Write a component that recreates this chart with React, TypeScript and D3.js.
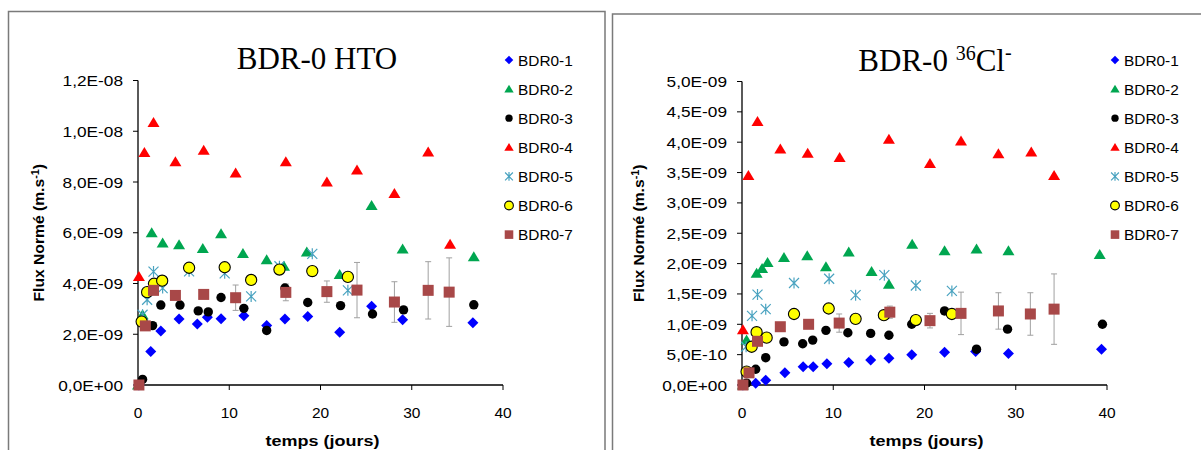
import React from 'react';
import * as d3 from 'd3';

// ---------- DATA (values in units of 1e-9 m/s) ----------
const seriesNames = ['BDR0-1', 'BDR0-2', 'BDR0-3', 'BDR0-4', 'BDR0-5', 'BDR0-6', 'BDR0-7'];
const xTicks = [0, 10, 20, 30, 40];
const htoYTicks = [0, 2, 4, 6, 8, 10, 12];
const clYTicks = [0, 0.5, 1, 1.5, 2, 2.5, 3, 3.5, 4, 4.5, 5];

// HTO chart
const hto1 = [[0.1, 0], [1.4, 1.32], [2.5, 2.13], [4.5, 2.6], [6.5, 2.4], [7.6, 2.67], [9.1, 2.61], [11.6, 2.73], [14.1, 2.34], [16.1, 2.6], [18.6, 2.7], [22.1, 2.08], [25.6, 3.1], [29.0, 2.57], [36.7, 2.45]];
const hto2 = [[0, 0], [0.5, 2.77], [1.5, 6.0], [2.7, 5.6], [4.5, 5.53], [7.1, 5.38], [9.1, 5.96], [11.5, 5.18], [14.1, 4.94], [16.0, 4.68], [18.5, 5.24], [22.1, 4.35], [25.6, 7.07], [29.0, 5.36], [36.8, 5.05]];
const hto3 = [[0.5, 0.22], [1.6, 2.34], [2.5, 3.15], [4.6, 3.15], [6.6, 2.92], [7.7, 2.88], [9.1, 3.45], [11.6, 3.02], [14.1, 2.15], [16.1, 3.82], [18.6, 3.25], [22.2, 3.13], [25.7, 2.8], [29.1, 2.96], [36.8, 3.16]];
const hto4 = [[0.1, 4.28], [0.7, 9.16], [1.7, 10.34], [4.1, 8.8], [7.2, 9.25], [10.7, 8.35], [16.2, 8.8], [20.7, 8.0], [24.0, 8.47], [28.1, 7.55], [31.8, 9.18], [34.2, 5.55]];
const hto5 = [[0.5, 2.77], [1.0, 3.36], [1.7, 4.47], [2.7, 3.82], [5.6, 4.48], [9.5, 4.4], [12.4, 3.49], [15.5, 4.68], [19.1, 5.17], [23.0, 3.73]];
const hto6 = [[0.4, 2.5], [1.0, 3.66], [1.75, 3.99], [2.65, 4.11], [5.6, 4.62], [9.5, 4.64], [12.4, 4.14], [15.5, 4.55], [19.1, 4.49], [23.0, 4.26]];
const hto7 = [[0.1, 0], [0.8, 2.33], [1.7, 3.73], [4.1, 3.53], [7.2, 3.57], [10.7, 3.44], [16.2, 3.65], [20.7, 3.68], [24.0, 3.74], [28.1, 3.27], [31.8, 3.73], [34.1, 3.66]];
const hto7Err = [0, 0, 0, 0, 0, 0.5, 0.33, 0.42, 1.09, 0.8, 1.13, 1.35];

// 36Cl chart
const cl1 = [[0.1, 0], [1.5, 0.03], [2.6, 0.08], [4.7, 0.2], [6.7, 0.3], [7.8, 0.3], [9.3, 0.35], [11.7, 0.37], [14.1, 0.41], [16.1, 0.44], [18.6, 0.5], [22.2, 0.54], [25.6, 0.55], [29.2, 0.52], [39.4, 0.59]];
const cl2 = [[0.1, 0], [0.5, 0.74], [1.6, 1.84], [2.2, 1.92], [2.8, 2.02], [4.6, 2.1], [7.15, 2.13], [9.2, 1.95], [11.7, 2.19], [14.2, 1.87], [16.1, 1.66], [18.65, 2.32], [22.2, 2.21], [25.7, 2.24], [29.2, 2.21], [39.2, 2.15]];
const cl3 = [[0.5, 0.03], [1.5, 0.26], [2.6, 0.45], [4.6, 0.71], [6.65, 0.68], [7.75, 0.74], [9.2, 0.9], [11.6, 0.86], [14.1, 0.85], [16.1, 0.82], [18.6, 1.0], [22.2, 1.22], [25.7, 0.59], [29.1, 0.92], [39.5, 1.0]];
const cl4 = [[0.1, 0.91], [0.7, 3.45], [1.7, 4.34], [4.2, 3.89], [7.2, 3.82], [10.7, 3.75], [16.1, 4.05], [20.6, 3.65], [24.0, 4.02], [28.1, 3.81], [31.7, 3.84], [34.2, 3.45]];
const cl5 = [[0.45, 0.63], [1.1, 1.14], [1.7, 1.49], [2.6, 1.25], [5.7, 1.68], [9.55, 1.75], [12.45, 1.48], [15.6, 1.81], [19.05, 1.64], [23.0, 1.55]];
const cl6 = [[0.5, 0.22], [1.06, 0.63], [1.6, 0.87], [2.7, 0.78], [5.7, 1.17], [9.5, 1.26], [12.45, 1.09], [15.55, 1.15], [19.05, 1.07], [23.0, 1.17]];
const cl7 = [[0.1, 0], [0.77, 0.2], [1.7, 0.72], [4.2, 0.96], [7.3, 1.0], [10.65, 1.02], [16.2, 1.2], [20.6, 1.06], [24.0, 1.18], [28.1, 1.22], [31.6, 1.17], [34.2, 1.25]];
const cl7Err = [0, 0, 0, 0, 0, 0.15, 0.1, 0.12, 0.35, 0.3, 0.35, 0.58];

// ---------- STYLE ----------
const COL = ['#0000ff', '#00a650', '#000000', '#ff0000', '#4aa3c0', '#ffff00', '#a84848'];
const FONT = 'Arial, "Liberation Sans", sans-serif';

function fmtSci(v: number): string {
  const real = v * 1e-9;
  if (real === 0) return '0,0E+00';
  const e = Math.floor(Math.log10(real) + 1e-9);
  const m = real / Math.pow(10, e);
  const s = e < 0 ? '-' : '+';
  return m.toFixed(1).replace('.', ',') + 'E' + s + String(Math.abs(e)).padStart(2, '0');
}

function Marker({ i, x, y, s = 1 }: { i: number; x: number; y: number; s?: number }) {
  const c = COL[i];
  switch (i) {
    case 0: {
      const r = 5.5 * s;
      return <path d={`M${x},${y - r}L${x + r},${y}L${x},${y + r}L${x - r},${y}Z`} fill={c} />;
    }
    case 1:
    case 3: {
      const w = 6 * s, h = 10 * s;
      return <path d={`M${x},${y - h * 0.55}L${x + w},${y + h * 0.45}L${x - w},${y + h * 0.45}Z`} fill={c} />;
    }
    case 2:
      return <circle cx={x} cy={y} r={4.7 * s} fill={c} />;
    case 4: {
      const r = 5 * s;
      return (
        <g stroke={c} strokeWidth={1.2} fill="none">
          <path d={`M${x - r},${y - r}L${x + r},${y + r}M${x - r},${y + r}L${x + r},${y - r}M${x},${y - r * 1.1}L${x},${y + r * 1.1}`} />
        </g>
      );
    }
    case 5:
      return <circle cx={x} cy={y} r={5.6 * s} fill={c} stroke="#000" strokeWidth={1.1} />;
    default: {
      const r = 5.5 * s;
      return <rect x={x - r} y={y - r} width={2 * r} height={2 * r} fill={c} />;
    }
  }
}

type Cfg = {
  x0: number; x1: number; yTop: number; yBot: number; yMax: number; yTicks: number[];
  series: number[][][]; err: number[]; legendX: number; yLabelX: number;
};

function Panel({ cfg }: { cfg: Cfg }) {
  const x = d3.scaleLinear().domain([0, 40]).range([cfg.x0, cfg.x1]);
  const y = d3.scaleLinear().domain([0, cfg.yMax]).range([cfg.yBot, cfg.yTop]);
  const s7 = cfg.series[6];
  return (
    <g fontFamily={FONT}>
      {/* axes */}
      <line x1={cfg.x0} x2={cfg.x0} y1={y(cfg.yMax)} y2={cfg.yBot} stroke="#000" strokeWidth={1.3} />
      <line x1={cfg.x0} x2={x(40)} y1={cfg.yBot} y2={cfg.yBot} stroke="#000" strokeWidth={1.3} />
      {cfg.yTicks.map((t) => (
        <g key={'y' + t}>
          <line x1={cfg.x0 - 5} x2={cfg.x0} y1={y(t)} y2={y(t)} stroke="#000" strokeWidth={1} />
          <text transform={`translate(${cfg.x0 - 15},${y(t) + 5.5}) scale(1.15,1)`} textAnchor="end" fontSize={15} fill="#000">
            {fmtSci(t)}
          </text>
        </g>
      ))}
      {xTicks.map((t) => (
        <g key={'x' + t}>
          <line x1={x(t)} x2={x(t)} y1={cfg.yBot} y2={cfg.yBot + 5} stroke="#000" strokeWidth={1} />
          <text x={x(t)} y={cfg.yBot + 33} textAnchor="middle" fontSize={15.5} fill="#000">
            {t}
          </text>
        </g>
      ))}
      {/* axis titles */}
      <text transform={`translate(${(cfg.x0 + x(40)) / 2 + 2},446) scale(1.2,1)`} textAnchor="middle" fontSize={15} fontWeight="bold">
        temps (jours)
      </text>
      <text transform={`translate(${cfg.yLabelX},${(cfg.yTop + cfg.yBot) / 2}) rotate(-90) scale(1.08,1)`} textAnchor="middle" fontSize={14.5} fontWeight="bold">
        Flux Normé (m.s<tspan dy={-5} fontSize={10}>-1</tspan><tspan dy={5}>)</tspan>
      </text>
      {/* error bars for series 7 */}
      {s7.map((p, k) =>
        cfg.err[k] > 0 ? (
          <g key={'e' + k} stroke="#a0a0a0" strokeWidth={1}>
            <line x1={x(p[0])} x2={x(p[0])} y1={y(p[1] - cfg.err[k])} y2={y(p[1] + cfg.err[k])} />
            <line x1={x(p[0]) - 3} x2={x(p[0]) + 3} y1={y(p[1] - cfg.err[k])} y2={y(p[1] - cfg.err[k])} />
            <line x1={x(p[0]) - 3} x2={x(p[0]) + 3} y1={y(p[1] + cfg.err[k])} y2={y(p[1] + cfg.err[k])} />
          </g>
        ) : null
      )}
      {/* points */}
      {cfg.series.map((ser, i) => (
        <g key={'s' + i}>
          {ser.map((p, k) => (
            <Marker key={k} i={i} x={x(p[0])} y={y(p[1])} />
          ))}
        </g>
      ))}
      {/* legend */}
      {seriesNames.map((n, i) => {
        const ly = 60 + i * 29.1;
        return (
          <g key={'l' + i}>
            <Marker i={i} x={cfg.legendX} y={ly} s={0.78} />
            <text x={cfg.legendX + 9} y={ly + 5.5} fontSize={15.4} fill="#000">
              {n}
            </text>
          </g>
        );
      })}
    </g>
  );
}

export default function App() {
  const left: Cfg = {
    x0: 138, x1: 503, yTop: 80.5, yBot: 385, yMax: 12, yTicks: htoYTicks,
    series: [hto1, hto2, hto3, hto4, hto5, hto6, hto7], err: hto7Err, legendX: 509, yLabelX: 44,
  };
  const right: Cfg = {
    x0: 742, x1: 1107, yTop: 81.5, yBot: 385, yMax: 5, yTicks: clYTicks,
    series: [cl1, cl2, cl3, cl4, cl5, cl6, cl7], err: cl7Err, legendX: 1115, yLabelX: 644,
  };
  return (
    <svg width={1201} height={450} style={{ position: 'absolute', left: 0, top: 0, background: '#fff' }}>
      <rect width={1201} height={450} fill="#fff" />
      <path d="M8.5,450V11.5H605V450" fill="none" stroke="#7a7a7a" strokeWidth={1.5} />
      <path d="M612.5,450V14H1201" fill="none" stroke="#7a7a7a" strokeWidth={1.5} />
      <text x={317} y={69} textAnchor="middle" fontFamily='"Liberation Serif", "Times New Roman", serif' fontSize={31}>
        BDR-0 HTO
      </text>
      <text x={935} y={71} textAnchor="middle" fontFamily='"Liberation Serif", "Times New Roman", serif' fontSize={31}>
        BDR-0 <tspan dy={-11} fontSize={20}>36</tspan><tspan dy={11}>Cl</tspan><tspan dy={-12} fontSize={20}>-</tspan>
      </text>
      <Panel cfg={left} />
      <Panel cfg={right} />
    </svg>
  );
}
